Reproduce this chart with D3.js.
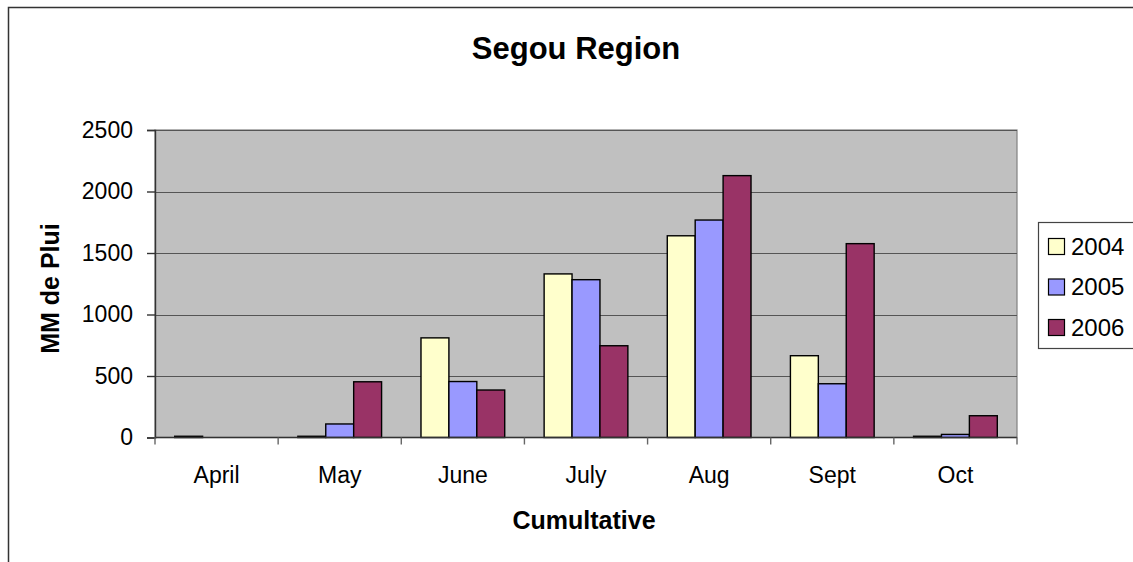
<!DOCTYPE html>
<html>
<head>
<meta charset="utf-8">
<script src="https://cdn.jsdelivr.net/npm/d3@7"></script>
<style>
  body { margin: 0; background: #fff; }
  text { font-family: "Liberation Sans", Arial, sans-serif; fill: #000; }
</style>
</head>
<body>
<div id="chart"></div>
<script>
// Chart values
var months = ["April", "May", "June", "July", "Aug", "Sept", "Oct"];
var years  = ["2004", "2005", "2006"];
var rain2004 = [10, 10, 810, 1330, 1640, 665, 10];
var rain2005 = [0, 110, 455, 1283, 1768, 437, 25];
var rain2006 = [0, 453, 386, 746, 2129, 1576, 177];
var yTicks = [0, 500, 1000, 1500, 2000, 2500];
var colors = ["#FFFFCC", "#9999FF", "#993366"];

var series = [rain2004, rain2005, rain2006];

var width = 1133, height = 562;
var plot = {left: 155, right: 1017, top: 130, bottom: 437.5};

var svg = d3.select("#chart").append("svg")
    .attr("width", width)
    .attr("height", height);

// outer chart frame (runs off the right / bottom edge)
svg.append("rect")
    .attr("x", 8.5).attr("y", 7.5)
    .attr("width", 1300).attr("height", 700)
    .attr("fill", "#fff")
    .attr("stroke", "#333")
    .attr("stroke-width", 1.5);

// scales
var x = d3.scaleBand()
    .domain(months)
    .range([plot.left, plot.right])
    .paddingInner(0.32)
    .paddingOuter(0.16);

var xStep = d3.scaleBand()
    .domain(months)
    .range([plot.left, plot.right])
    .padding(0);

var xSub = d3.scaleBand()
    .domain(years)
    .range([0, x.bandwidth()])
    .padding(0);

var y = d3.scaleLinear()
    .domain([0, 2500])
    .range([plot.bottom, plot.top]);

// plot background
svg.append("rect")
    .attr("x", plot.left).attr("y", plot.top)
    .attr("width", plot.right - plot.left)
    .attr("height", plot.bottom - plot.top)
    .attr("fill", "#C0C0C0")
    .attr("stroke", "#808080")
    .attr("stroke-width", 1.2);

// gridlines
svg.append("g")
    .selectAll("line")
    .data(yTicks.slice(1))
    .enter()
    .append("line")
      .attr("x1", plot.left).attr("x2", plot.right)
      .attr("y1", function(d) { return Math.round(y(d)) + 0.5; })
      .attr("y2", function(d) { return Math.round(y(d)) + 0.5; })
      .attr("stroke", "#555")
      .attr("stroke-width", 1.2);

// bars
var rows = [];
months.forEach(function(m, i) {
  years.forEach(function(yr, j) {
    rows.push({month: m, year: yr, value: series[j][i], color: colors[j]});
  });
});

svg.append("g")
    .selectAll("rect")
    .data(rows.filter(function(d) { return d.value > 0; }))
    .enter()
    .append("rect")
      .attr("x", function(d) { return x(d.month) + xSub(d.year); })
      .attr("y", function(d) { return y(d.value); })
      .attr("width", xSub.bandwidth())
      .attr("height", function(d) { return plot.bottom - y(d.value); })
      .attr("fill", function(d) { return d.color; })
      .attr("stroke", "#000")
      .attr("stroke-width", 1.4);

// y axis
var yAxis = svg.append("g")
    .attr("transform", "translate(" + plot.left + ",0)")
    .call(d3.axisLeft(y).tickValues(yTicks).tickFormat(d3.format("d")).tickSize(8).tickPadding(14));
yAxis.selectAll("path, line").attr("stroke", "#333").attr("stroke-width", 1.4);
yAxis.selectAll("text")
    .attr("font-size", "23px")
    .attr("font-family", "Liberation Sans, Arial, sans-serif")
    .attr("fill", "#000");

// x axis: ticks sit on category boundaries
var xAxisG = svg.append("g").attr("transform", "translate(0," + plot.bottom + ")");
xAxisG.append("line")
    .attr("x1", plot.left).attr("x2", plot.right)
    .attr("stroke", "#333").attr("stroke-width", 1.4);
var bounds = months.map(function(m) { return xStep(m); }).concat([plot.right]);
xAxisG.selectAll(".tick")
    .data(bounds)
    .enter()
    .append("line")
      .attr("x1", function(d) { return d; }).attr("x2", function(d) { return d; })
      .attr("y1", 0).attr("y2", 7)
      .attr("stroke", "#666").attr("stroke-width", 1.4);
xAxisG.selectAll("text")
    .data(months)
    .enter()
    .append("text")
      .attr("x", function(d) { return xStep(d) + xStep.bandwidth() / 2; })
      .attr("y", 45.5)
      .attr("text-anchor", "middle")
      .attr("font-size", "23px")
      .text(function(d) { return d; });

// titles
svg.append("text")
    .attr("x", 576).attr("y", 59)
    .attr("text-anchor", "middle")
    .attr("font-size", "31px")
    .attr("font-weight", "bold")
    .text("Segou Region");

svg.append("text")
    .attr("x", 584).attr("y", 529)
    .attr("text-anchor", "middle")
    .attr("font-size", "25px")
    .attr("font-weight", "bold")
    .text("Cumultative");

svg.append("text")
    .attr("transform", "translate(59,288.5) rotate(-90)")
    .attr("text-anchor", "middle")
    .attr("font-size", "25px")
    .attr("font-weight", "bold")
    .text("MM de Plui");

// legend
var legend = svg.append("g");
legend.append("rect")
    .attr("x", 1038.5).attr("y", 222.5)
    .attr("width", 200).attr("height", 126)
    .attr("fill", "#fff")
    .attr("stroke", "#444")
    .attr("stroke-width", 1.2);

var legendY = d3.scalePoint()
    .domain(years)
    .range([246, 327]);

var item = legend.selectAll(".item")
    .data(years)
    .enter()
    .append("g")
      .attr("transform", function(d) { return "translate(1048," + legendY(d) + ")"; });
item.append("rect")
    .attr("x", 0.5).attr("y", -7.5)
    .attr("width", 16).attr("height", 16)
    .attr("fill", function(d, i) { return colors[i]; })
    .attr("stroke", "#000")
    .attr("stroke-width", 1.2);
item.append("text")
    .attr("x", 23).attr("y", 8.5)
    .attr("font-size", "24px")
    .text(function(d) { return d; });
</script>
</body>
</html>
